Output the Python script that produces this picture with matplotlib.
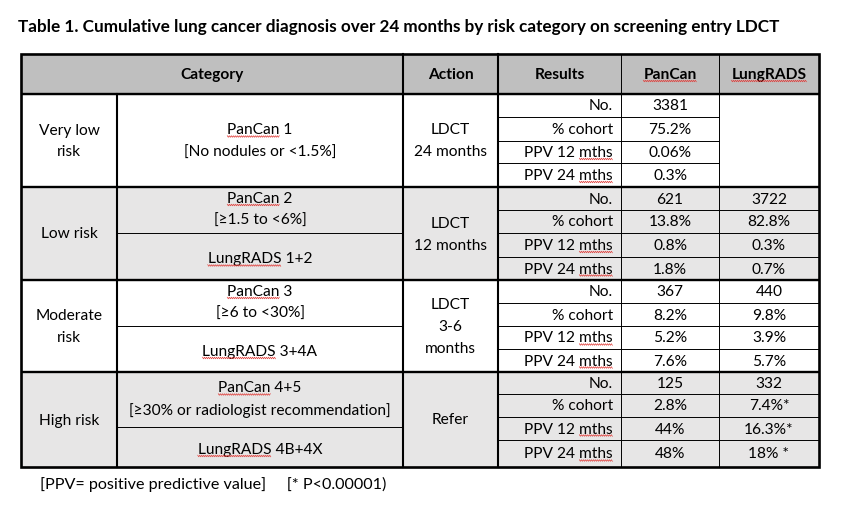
import numpy as np
import matplotlib.pyplot as plt
from matplotlib.patches import Rectangle

plt.rcParams["font.family"] = ["Lato", "DejaVu Sans"]

# ── Table content ─────────────────────────────────────────
title = ("Table 1. Cumulative lung cancer diagnosis over 24 months "
         "by risk category on screening entry LDCT")
footnote = "[PPV= positive predictive value]     [* P<0.00001)"
headers = ["Category", "Action", "Results", "PanCan", "LungRADS"]

groups = ["Very low\nrisk", "Low risk", "Moderate\nrisk", "High risk"]
actions = ["LDCT\n24 months", "LDCT\n12 months", "LDCT\n3-6\nmonths", "Refer"]
pancan_cat = ["PanCan 1\n[No nodules or <1.5%]",
              "PanCan 2\n[≥1.5 to <6%]",
              "PanCan 3\n[≥6 to <30%]",
              "PanCan 4+5\n[≥30% or radiologist recommendation]"]
lungrads_cat = [None, "LungRADS 1+2", "LungRADS 3+4A", "LungRADS 4B+4X"]
result_labels = ["No.", "% cohort", "PPV 12 mths", "PPV 24 mths"]
pancan_vals = [["3381", "75.2%", "0.06%", "0.3%"],
               ["621", "13.8%", "0.8%", "1.8%"],
               ["367", "8.2%", "5.2%", "7.6%"],
               ["125", "2.8%", "44%", "48%"]]
lungrads_vals = [None,
                 ["3722", "82.8%", "0.3%", "0.7%"],
                 ["440", "9.8%", "3.9%", "5.7%"],
                 ["332", "7.4%*", "16.3%*", "18% *"]]
squiggle_words = ["PanCan", "LungRADS", "mths"]

# ── Layout (pixels) ───────────────────────────────────────
W, H = 842, 505
cols = [21, 117, 403, 498, 621, 719, 819]
head_top, head_bot = 54, 94
rows = [[94, 117, 141, 163, 187],
        [187, 210, 233, 257, 280],
        [280, 303, 326, 349, 372],
        [372, 394, 417, 440, 467]]
splits = [None, 233, 326, 427]
shade = [False, True, False, True]
FS = 11.2
LS = 22
THICK, MED, THIN = 1.9, 1.5, 0.7

fig = plt.figure(figsize=(W / 100, H / 100), dpi=100)
ax = fig.add_axes([0, 0, 1, 1])
ax.set_xlim(0, W)
ax.set_ylim(H, 0)
ax.axis("off")

texts = []  # (text artist, alignment) for squiggle pass


def put(x, y, s, ha="center", bold=False, size=FS):
    t = ax.text(x, y, s, ha=ha, va="center", fontsize=size,
                fontweight="bold" if bold else "normal", color="black")
    texts.append((t, s, ha, bold, size))
    return t


def put_lines(x, yc, s, ha="center", bold=False):
    lines = s.split("\n")
    n = len(lines)
    for i, ln in enumerate(lines):
        put(x, yc + (i - (n - 1) / 2) * LS, ln, ha=ha, bold=bold)


# fills
ax.add_patch(Rectangle((cols[0], head_top), cols[-1] - cols[0],
                       head_bot - head_top, color="#bfbfbf", zorder=0))
for g, r in enumerate(rows):
    if shade[g]:
        ax.add_patch(Rectangle((cols[0], r[0]), cols[-1] - cols[0],
                               r[-1] - r[0], color="#e7e6e6", zorder=0))

# header
head_x = [(cols[0] + cols[2]) / 2, (cols[2] + cols[3]) / 2,
          (cols[3] + cols[4]) / 2, (cols[4] + cols[5]) / 2,
          (cols[5] + cols[6]) / 2]
for hx, h in zip(head_x, headers):
    put(hx, (head_top + head_bot) / 2 + 1, h, bold=True)

# body
for g, r in enumerate(rows):
    yc = (r[0] + r[-1]) / 2
    put_lines((cols[0] + cols[1]) / 2, yc + 1, groups[g])
    put_lines((cols[2] + cols[3]) / 2, yc + 1, actions[g])
    cx = (cols[1] + cols[2]) / 2
    if splits[g] is None:
        put_lines(cx, yc + 1, pancan_cat[g])
    else:
        put_lines(cx, (r[0] + splits[g]) / 2, pancan_cat[g])
        put_lines(cx, (splits[g] + r[-1]) / 2 + 3, lungrads_cat[g])
        ax.plot([cols[1], cols[2]], [splits[g]] * 2, color="black",
                lw=THIN, zorder=2)
    for k in range(4):
        ry = (r[k] + r[k + 1]) / 2 + 1
        put(cols[4] - 8, ry, result_labels[k], ha="right")
        put((cols[4] + cols[5]) / 2, ry, pancan_vals[g][k])
        if lungrads_vals[g] is not None:
            put((cols[5] + cols[6]) / 2, ry, lungrads_vals[g][k])
        if k > 0:
            x_end = cols[6] if lungrads_vals[g] is not None else cols[5]
            ax.plot([cols[3], x_end], [r[k]] * 2, color="black",
                    lw=THIN, zorder=2)

# grid lines
bottom = rows[-1][-1]
for y in [head_bot] + [r[0] for r in rows[1:]]:
    ax.plot([cols[0], cols[-1]], [y, y], color="black", lw=MED + 0.2,
            zorder=3, solid_capstyle="butt")
ax.plot([cols[1], cols[1]], [head_bot, bottom], color="black", lw=MED, zorder=3)
for x in cols[2:4]:
    ax.plot([x, x], [head_top, bottom], color="black", lw=MED, zorder=3)
for x in cols[4:6]:
    ax.plot([x, x], [head_top, bottom], color="black", lw=THIN, zorder=3)
ax.add_patch(Rectangle((cols[0], head_top), cols[-1] - cols[0],
                       bottom - head_top, fill=False, ec="black",
                       lw=THICK, zorder=4, joinstyle="miter"))

ax.text(18, 27, title, ha="left", va="center", fontsize=12.3,
        fontweight="bold")
ax.text(40, 484, footnote, ha="left", va="center", fontsize=11.6)

# ── Spell-check squiggles under selected words ────────────
fig.canvas.draw()
rend = fig.canvas.get_renderer()
inv = ax.transData.inverted()


def text_width(s, bold, size):
    t = ax.text(0, 0, s, fontsize=size,
                fontweight="bold" if bold else "normal")
    w = t.get_window_extent(rend).width
    t.remove()
    return w


for t, s, ha, bold, size in texts:
    for word in squiggle_words:
        i = s.find(word)
        if i < 0:
            continue
        bb = t.get_window_extent(rend)
        x0 = bb.x0 + (text_width(s[:i], bold, size) if i > 0 else 0)
        x1 = x0 + text_width(word, bold, size)
        (dx0, dy), (dx1, _) = inv.transform([(x0, bb.y0), (x1, bb.y0)])
        yb = dy - 1.0
        xs = np.arange(dx0, dx1 + 0.01, 1.0)
        ys = yb + 0.8 * ((np.arange(len(xs)) % 2) * 2 - 1)
        ax.plot(xs, ys, color="#e0403c", lw=0.5, zorder=5)

plt.savefig("out.png", dpi=100)
plt.close()
